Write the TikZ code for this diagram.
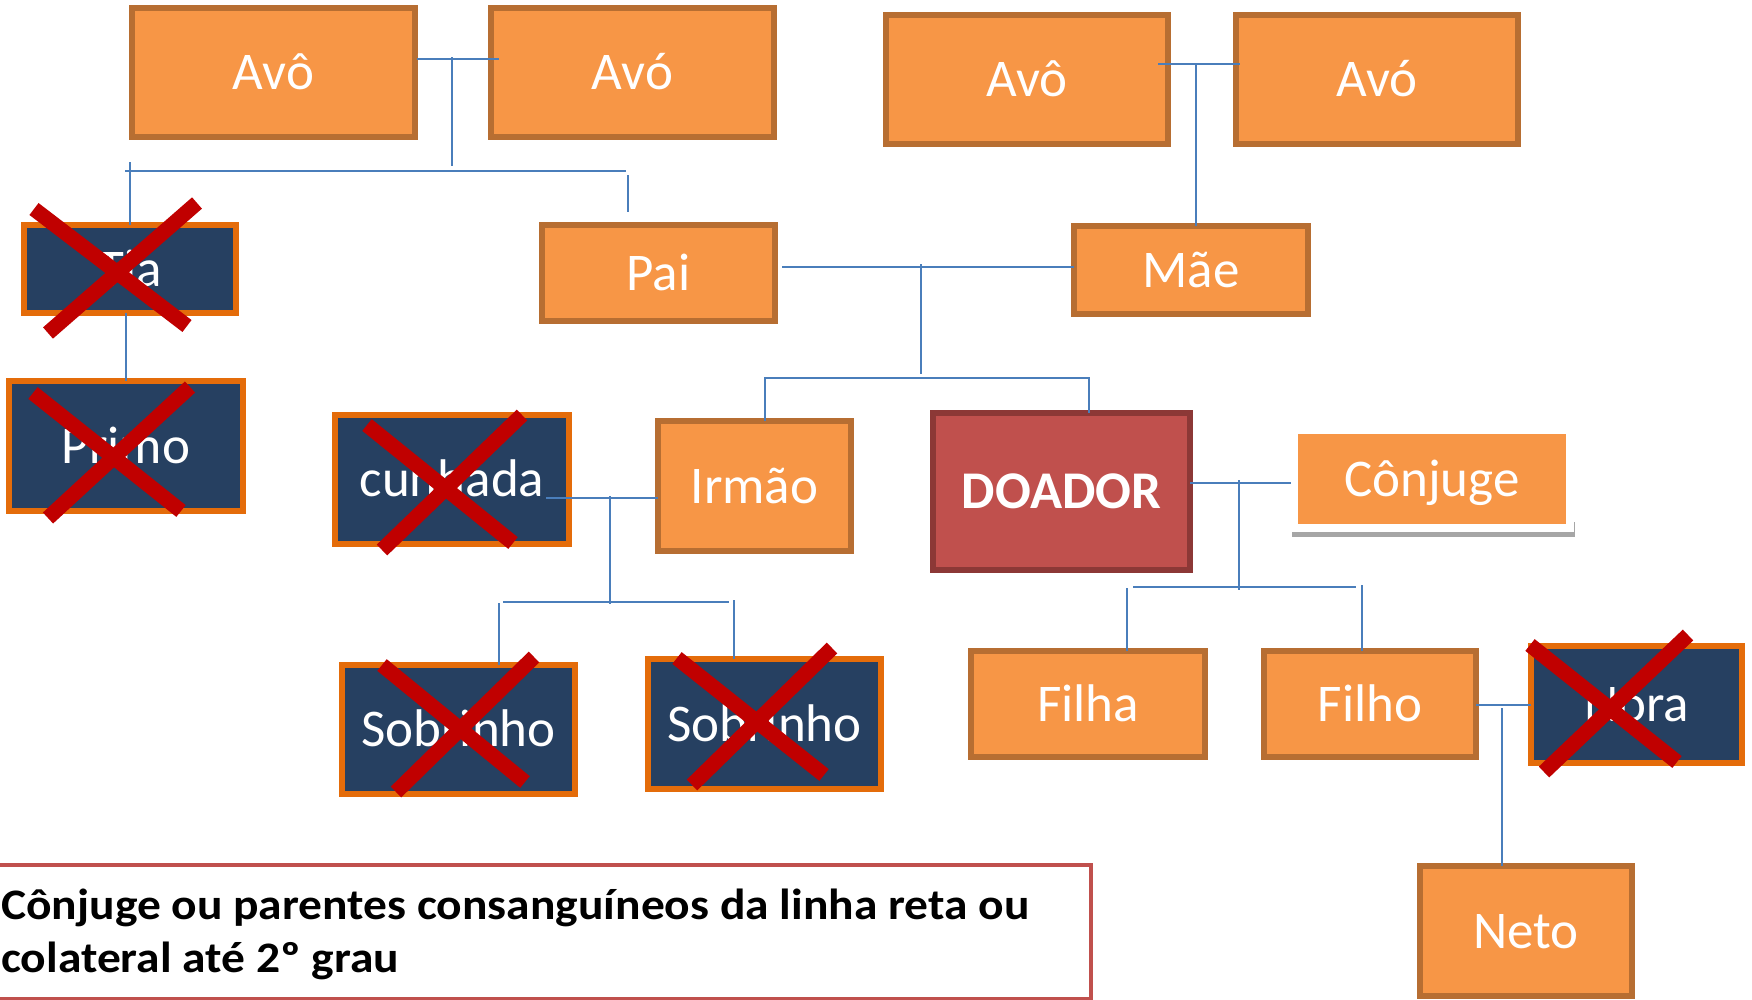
\documentclass[tikz,border=0pt]{standalone}
\usepackage{fontspec}
\usepackage{graphicx}
\setmainfont{Carlito}
\definecolor{ofill}{RGB}{247,150,70}
\definecolor{obrd}{RGB}{183,110,50}
\definecolor{nfill}{RGB}{38,64,97}
\definecolor{nbrd}{RGB}{228,108,10}
\definecolor{dfill}{RGB}{192,80,77}
\definecolor{dbrd}{RGB}{140,56,54}
\definecolor{xred}{RGB}{192,0,0}
\definecolor{connblue}{RGB}{74,126,187}
\definecolor{legred}{RGB}{192,80,77}
\newcommand{\lblfont}{\fontsize{53pt}{63pt}\selectfont}
\newcommand{\legstretch}[1]{\scalebox{1.092}[1]{#1}}
\begin{document}
\begin{tikzpicture}[x=1pt,y=-1pt,
  conn/.style={draw=connblue, line width=2pt},
  basebox/.style={line width=6pt, text=white, font=\lblfont, inner sep=0pt, outer sep=0pt, text height=34pt, text depth=0pt},
  obox/.style={basebox, draw=obrd, fill=ofill},
  nbox/.style={basebox, draw=nbrd, fill=nfill},
  dbox/.style={basebox, draw=dbrd, fill=dfill, font=\lblfont\bfseries},
  cross/.style={draw=xred, line width=15pt},
  legtext/.style={font=\fontsize{43.5pt}{52pt}\selectfont\bfseries, text=black, inner sep=0pt, anchor=base west}
]
\useasboundingbox (0,0) rectangle (1752,999);
\clip (0,0) rectangle (1752,999);
\fill[white] (0,0) rectangle (1752,999);

% boxes
\node[obox, minimum width=283pt, minimum height=129pt] (avo1) at (273.5,72.5) {Avô};
\node[obox, minimum width=283pt, minimum height=129pt] (ava1) at (632.5,72.5) {Avó};
\node[obox, minimum width=282pt, minimum height=129pt] (avo2) at (1027,79.5) {Avô};
\node[obox, minimum width=282pt, minimum height=129pt] (ava2) at (1377,79.5) {Avó};
\node[nbox, minimum width=212pt, minimum height=88pt] (tia) at (130,269) {Tia};
\node[obox, minimum width=233pt, minimum height=96pt] (pai) at (658.5,273) {Pai};
\node[obox, minimum width=234pt, minimum height=88pt] (mae) at (1191,270) {Mãe};
\node[nbox, minimum width=234pt, minimum height=130pt] (primo) at (126,446) {Primo};
\node[nbox, minimum width=234pt, minimum height=129pt] (cunhada) at (452,479.5) {cunhada};
\node[obox, minimum width=193pt, minimum height=130pt] (irmao) at (754.5,486) {Irmão};
\node[dbox, minimum width=257pt, minimum height=157pt] (doador) at (1061.5,491.5) {DOADOR};
\fill[black!35] (1292,522) rectangle (1575,537);
\node[basebox, draw=white, fill=ofill, line width=8pt, minimum width=276pt, minimum height=98pt] (conjuge) at (1432,479) {Cônjuge};
\node[nbox, minimum width=233pt, minimum height=129pt] (sob1) at (458.5,729.5) {Sobrinho};
\node[nbox, minimum width=233pt, minimum height=130pt] (sob2) at (764.5,724) {Sobrinho};
\node[obox, minimum width=234pt, minimum height=106pt] (filha) at (1088,704) {Filha};
\node[obox, minimum width=212pt, minimum height=106pt] (filho) at (1370,704) {Filho};
\node[nbox, minimum width=211pt, minimum height=117pt] (nora) at (1636.5,704.5) {Nora};
\node[obox, minimum width=212pt, minimum height=130pt] (neto) at (1526,931) {Neto};

% junction coordinates
\coordinate (jA) at (452,59);
\coordinate (jAtop) at (452,57);
\coordinate (jAbot) at (452,166);
\coordinate (hL) at (125,171);
\coordinate (hR) at (626,171);
\coordinate (tiaTop) at (130,162);
\coordinate (paiStubTop) at (628,175);
\coordinate (paiStubBot) at (628,212);
\coordinate (jB) at (1196,64);
\coordinate (jC) at (921,267);
\coordinate (jCtop) at (921,264);
\coordinate (jCbot) at (921,374);
\coordinate (jD1) at (765,378);
\coordinate (jD2) at (1089,378);
\coordinate (jE) at (610,498);
\coordinate (jEtop) at (610,496);
\coordinate (jEbot) at (610,604);
\coordinate (hS1) at (503,602);
\coordinate (hS2) at (729,602);
\coordinate (vS1) at (499,603);
\coordinate (vS2) at (734,600);
\coordinate (jF) at (1239,483);
\coordinate (jFtop) at (1239,480);
\coordinate (jFbot) at (1239,590);
\coordinate (hC1) at (1133,587);
\coordinate (hC2) at (1356,587);
\coordinate (vC1) at (1127,588);
\coordinate (vC2) at (1362,585);
\coordinate (jH) at (1502,705);
\coordinate (jHtop) at (1502,708);

% connectors
\draw[conn] ([xshift=2pt]avo1.east |- jA) -- ([xshift=8pt]ava1.west |- jA);
\draw[conn] (jAtop) -- (jAbot);
\draw[conn] (hL) -- (hR);
\draw[conn] (tiaTop) -- (tia.north);
\draw[conn] (tia.south -| primo.north) -- (primo.north);
\draw[conn] (paiStubTop) -- (paiStubBot);
\draw[conn] ([xshift=-10pt]avo2.east |- jB) -- ([xshift=4pt]ava2.west |- jB);
\draw[conn] (jB) -- (jB |- mae.north);
\draw[conn] ([xshift=7pt]pai.east |- jC) -- (mae.west |- jC);
\draw[conn] (jCtop) -- (jCbot);
\draw[conn] (irmao.north -| jD1) -- (jD1) -- (jD2) -- (jD2 |- doador.north);
\draw[conn] ([xshift=-23pt]cunhada.east |- jE) -- (irmao.west |- jE);
\draw[conn] (jEtop) -- (jEbot);
\draw[conn] (hS1) -- (hS2);
\draw[conn] (vS1) -- (vS1 |- sob1.north);
\draw[conn] (vS2) -- (vS2 |- sob2.north);
\draw[conn] (doador.east |- jF) -- ([xshift=-3pt]conjuge.west |- jF);
\draw[conn] (jFtop) -- (jFbot);
\draw[conn] (hC1) -- (hC2);
\draw[conn] (vC1) -- (vC1 |- filha.north);
\draw[conn] (vC2) -- (vC2 |- filho.north);
\draw[conn] (filho.east |- jH) -- (nora.west |- jH);
\draw[conn] (jHtop) -- (jHtop |- neto.north);

% crosses
\draw[cross] (34,209) -- (187,326);
\draw[cross] (197,203) -- (48,333);
\draw[cross] (33,393) -- (181,511);
\draw[cross] (190,387) -- (48,518);
\draw[cross] (367,425) -- (513,543);
\draw[cross] (522,415) -- (382,550);
\draw[cross] (382,665) -- (525,782);
\draw[cross] (534,657) -- (396,792);
\draw[cross] (677,658) -- (824,775);
\draw[cross] (832,648) -- (692,785);
\draw[cross] (1530,645) -- (1677,762);
\draw[cross] (1688,635) -- (1544,772);

% legend
\draw[legred, line width=4pt] (-10,865) rectangle (1091,999);
\node[legtext] (leg1) at (1,919) {\legstretch{Cônjuge ou parentes consanguíneos da linha reta ou}};
\node[legtext] (leg2) at (1,972) {\legstretch{colateral até 2º grau}};
\end{tikzpicture}
\end{document}
